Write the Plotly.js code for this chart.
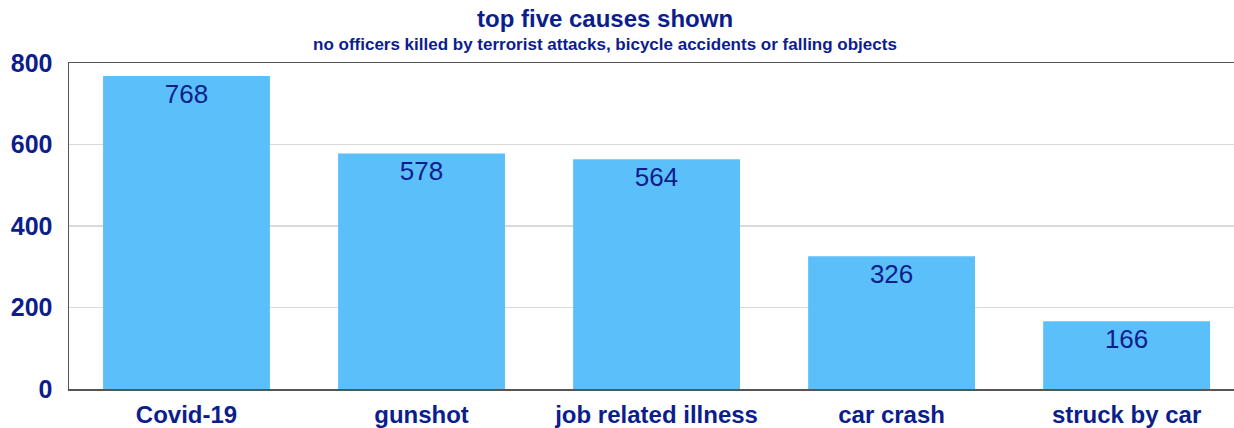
<!DOCTYPE html>
<html>
<head>
<meta charset="utf-8">
<script src="https://cdn.plot.ly/plotly-3.0.1.min.js"></script>
<style>html,body{margin:0;padding:0;background:#fff}#chart{width:1234px;height:428px}</style>
</head>
<body>
<div id="chart"></div>
<script>
const categories = ["Covid-19", "gunshot", "job related illness", "car crash", "struck by car"];
const deaths = [768, 578, 564, 326, 166];
const yTicks = [0, 200, 400, 600, 800];
const titleText = "top five causes shown";
const subtitleText = "no officers killed by terrorist attacks, bicycle accidents or falling objects";

const navy = "#0c1d8c";
const fam = "Liberation Sans, Arial, sans-serif";
const trace = {
  type: "bar",
  x: categories,
  y: deaths,
  width: 0.71,
  marker: {color: "#5bbffa"},
  text: deaths.map(String),
  textposition: "inside",
  insidetextanchor: "end",
  textangle: 0,
  insidetextfont: {family: fam, size: 26, color: navy},
  hoverinfo: "none",
  cliponaxis: false
};
const layout = {
  width: 1234, height: 428,
  margin: {l: 69, r: 0, t: 63, b: 39},
  paper_bgcolor: "#fff", plot_bgcolor: "#fff",
  showlegend: false,
  xaxis: {
    range: [-0.5, 4.457],
    showline: true, linecolor: "#555", linewidth: 1.5, mirror: true,
    ticks: "", showgrid: false,
    ticklabelstandoff: 4,
    tickfont: {family: fam, size: 24, color: navy, weight: "bold"},
    fixedrange: true
  },
  yaxis: {
    range: [0, 800],
    tickvals: yTicks,
    showline: true, linecolor: "#555", linewidth: 1.5,
    gridcolor: "#d9d9d9", gridwidth: 1.2,
    zeroline: false,
    ticks: "", ticklen: 0,
    ticklabelstandoff: 10,
    tickfont: {family: fam, size: 25, color: navy, weight: "bold"},
    fixedrange: true
  },
  annotations: [
    {text: "<b>" + titleText + "</b>", xref: "paper", yref: "paper", x: 0.46, y: 1, yshift: 45,
     showarrow: false, xanchor: "center", yanchor: "middle",
     font: {family: fam, size: 24, color: navy}},
    {text: "<b>" + subtitleText + "</b>", xref: "paper", yref: "paper", x: 0.46, y: 1, yshift: 19,
     showarrow: false, xanchor: "center", yanchor: "middle",
     font: {family: fam, size: 17, color: navy}}
  ]
};
Plotly.newPlot("chart", [trace], layout, {displayModeBar: false, staticPlot: true});
</script>
</body>
</html>
